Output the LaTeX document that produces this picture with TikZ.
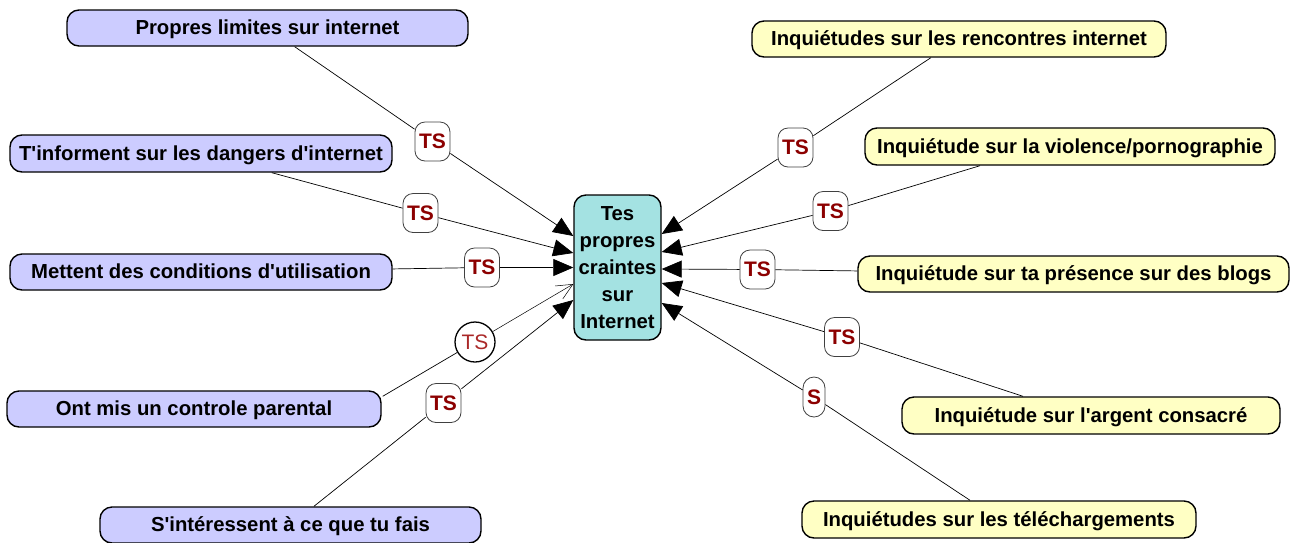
\documentclass[tikz,border=0pt]{standalone}
\usepackage{fontspec}
\setmainfont{Liberation Sans}
\usetikzlibrary{arrows.meta}
\definecolor{parentfill}{RGB}{204,204,255}
\definecolor{worryfill}{RGB}{255,255,196}
\definecolor{centerfill}{RGB}{164,226,226}
\definecolor{tsred}{RGB}{140,0,0}
\definecolor{tsthin}{RGB}{170,40,40}
\newcommand{\apos}{\textquotesingle}
\tikzset{
  box/.style={draw=black, line width=1.4pt, rounded corners=12pt, inner sep=0pt,
    font=\fontsize{20.3}{24}\selectfont\bfseries, text=black},
  onelinebox/.style={box, text height=16.5pt, text depth=3.5pt},
  parentbox/.style={onelinebox, fill=parentfill},
  worrybox/.style={onelinebox, fill=worryfill},
  hub/.style={box, fill=centerfill, align=center,
    font=\fontsize{20.3}{27}\selectfont\bfseries},
  tag/.style={draw=black!75, line width=0.8pt, fill=white, rounded corners=10pt,
    minimum width=35pt, minimum height=39pt, inner sep=0pt,
    font=\fontsize{21}{24}\selectfont\bfseries, text=tsred},
  tagpill/.style={tag, minimum width=22pt, minimum height=40pt, rounded corners=11pt},
  tagring/.style={circle, draw=black, line width=1.3pt, fill=white,
    minimum size=40pt, inner sep=0pt, font=\fontsize{21}{24}\selectfont, text=tsthin},
  link/.style={draw=black, line width=0.7pt},
  solid arrow/.style={link, -{Triangle[length=20pt,width=17pt]}},
  thin arrow/.style={link, line width=0.5pt, -{Straight Barb[length=16pt,width=15pt,line width=0.5pt]}}
}
\begin{document}
\begin{tikzpicture}[x=1pt,y=-1pt]
\useasboundingbox (0,0) rectangle (1296,542);

% central topic
\node[hub, minimum width=87pt, minimum height=145pt] (C) at (617.5,267.5)
  {Tes\\propres\\craintes\\sur\\Internet};

% parents' actions (left)
\node[parentbox, minimum width=401pt, minimum height=36pt] (L1) at (267.5,28) {Propres limites sur internet};
\node[parentbox, minimum width=382pt, minimum height=37pt] (L2) at (201,153.5) {T\apos informent sur les dangers d\apos internet};
\node[parentbox, minimum width=382pt, minimum height=36pt] (L3) at (201,272) {Mettent des conditions d\apos utilisation};
\node[parentbox, minimum width=374pt, minimum height=36pt] (L4) at (194,409) {Ont mis un controle parental};
\node[parentbox, minimum width=381pt, minimum height=36pt] (L5) at (290.5,525) {S\apos intéressent à ce que tu fais};

% worries (right)
\node[worrybox, minimum width=414pt, minimum height=36pt] (R1) at (959,39) {Inquiétudes sur les rencontres internet};
\node[worrybox, minimum width=410pt, minimum height=37pt] (R2) at (1070,146.5) {Inquiétude sur la violence/pornographie};
\node[worrybox, minimum width=431pt, minimum height=36pt] (R3) at (1073.5,274) {Inquiétude sur ta présence sur des blogs};
\node[worrybox, minimum width=378pt, minimum height=37pt] (R4) at (1091,415.5) {Inquiétude sur l\apos argent consacré};
\node[worrybox, minimum width=394pt, minimum height=37pt] (R5) at (999,519.5) {Inquiétudes sur les téléchargements};

% link labels
\node[tag] (t1) at (432.5,141.5) {TS};
\node[tag] (t2) at (420.5,213) {TS};
\node[tag] (t3) at (482,267.5) {TS};
\node[tagring] (t4) at (475,342) {TS};
\node[tag] (t5) at (443.5,403) {TS};
\node[tag] (u1) at (795.5,147.5) {TS};
\node[tag] (u2) at (830.5,211) {TS};
\node[tag] (u3) at (757.5,269.5) {TS};
\node[tag] (u4) at (842,337) {TS};
\node[tagpill] (u5) at (814,397) {S};

% left connectors
\draw[link] (L1) -- (t1);
\draw[solid arrow] (t1) -- ([yshift=31.5pt]C.west);
\draw[link] (L2) -- (t2);
\draw[solid arrow] (t2) -- ([yshift=14.5pt]C.west);
\draw[link] (L3) -- (t3);
\draw[solid arrow] (t3) -- (C.west);
\draw[link] ([xshift=1pt,yshift=-6pt]L4.north east) -- (t4);
\draw[thin arrow] (t4) -- ([yshift=-16.5pt]C.west);
\draw[link] (L5) -- (t5);
\draw[solid arrow] (t5) -- ([yshift=-32.5pt]C.west);

% right connectors
\draw[link] (R1) -- (u1);
\draw[solid arrow] (u1) -- ([yshift=33.5pt]C.east);
\draw[link] ([xshift=-90pt]R2.south) -- (u2);
\draw[solid arrow] (u2) -- ([yshift=15.5pt]C.east);
\draw[link] (R3) -- (u3);
\draw[solid arrow] (u3) -- ([yshift=-1.5pt]C.east);
\draw[link] ([xshift=-68pt]R4.north) -- (u4);
\draw[solid arrow] (u4) -- ([yshift=-15.5pt]C.east);
\draw[link] (R5) -- (u5);
\draw[solid arrow] (u5) -- ([yshift=-35.5pt]C.east);
\end{tikzpicture}
\end{document}
